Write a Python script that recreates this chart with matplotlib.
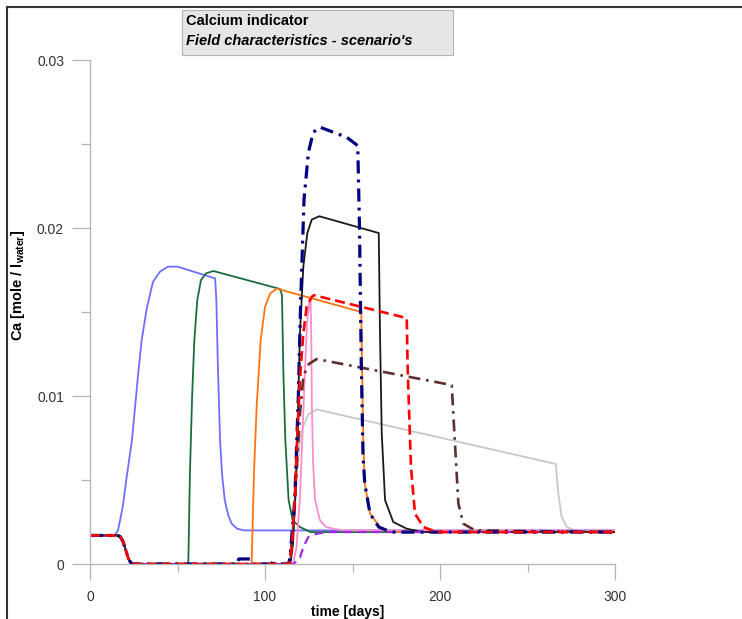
import numpy as np
import matplotlib.pyplot as plt
from matplotlib.patches import Rectangle
from matplotlib.lines import Line2D
from matplotlib.ticker import MultipleLocator

plt.rcParams['font.family'] = ['Liberation Sans', 'DejaVu Sans']
plt.rcParams['mathtext.fontset'] = 'custom'
plt.rcParams['mathtext.rm'] = 'Liberation Sans'
plt.rcParams['mathtext.bf'] = 'Liberation Sans:bold'

# common start of every scenario except the first: 0.0017 -> 0 around day 20
start_t = [0, 16, 17.5, 19, 20.5, 22, 23.5, 25]
start_v = [0.0017, 0.0017, 0.0016, 0.0013, 0.0008, 0.0003, 0.00005, 0.0]

# light blue
t_blue = [0, 14, 16, 18.7, 21, 24, 27.6, 29.5, 32.4, 36, 40, 44.6, 50, 71.5,
          72.2, 73, 74.3, 75.5, 77, 79, 81, 84, 88, 300]
v_blue = [0.0017, 0.0017, 0.0020, 0.0034, 0.0052, 0.0074, 0.0114, 0.0133, 0.0152, 0.0168, 0.0174, 0.0177, 0.0177, 0.0170,
          0.0157, 0.0121, 0.0074, 0.0053, 0.0038, 0.0029, 0.0024, 0.0021, 0.0020, 0.0020]

# green
t_green = start_t + [56, 56.2, 57.1, 58.3, 59.6, 61.3, 63.4, 66.3, 70.5, 108.6,
                     109.7, 110.5, 111.6, 113.5, 115.8, 120, 126, 300]
v_green = start_v + [0.0, 0.0002, 0.0054, 0.0098, 0.0133, 0.0157, 0.0169, 0.0173, 0.01744, 0.01637,
                     0.0160, 0.0114, 0.0074, 0.0038, 0.0026, 0.0022, 0.0019, 0.0019]

# orange
t_orange = start_t + [92.2, 92.4, 93.7, 95.2, 97.5, 100, 102.9, 106.7, 155.0,
                      155.4, 156.2, 157, 160, 165.7, 172, 300]
v_orange = start_v + [0.0, 0.0002, 0.0054, 0.0093, 0.0133, 0.0153, 0.0161, 0.01639, 0.0150,
                      0.0120, 0.0070, 0.0048, 0.0030, 0.0022, 0.0019, 0.0019]

# pink
t_pink = start_t + [116, 118, 120, 121.5, 122.8, 124, 125.3, 126, 126.4, 126.8, 127.5, 128.6,
                    131.4, 135, 139, 145, 300]
v_pink = start_v + [0.0, 0.001, 0.004, 0.008, 0.0114, 0.0143, 0.0156, 0.0157, 0.0140, 0.0094, 0.0060, 0.0038,
                    0.0026, 0.0022, 0.0021, 0.0020, 0.0020]

# light grey
t_grey = start_t + [113, 114.5, 116, 117.1, 118.3, 120, 121.9, 124.7, 129.5, 266.3,
                    266.9, 267.6, 269.5, 272.4, 280, 300]
v_grey = start_v + [0.0, 0.0005, 0.0018, 0.0034, 0.0054, 0.0074, 0.0082, 0.0089, 0.0092, 0.00595,
                    0.0050, 0.0042, 0.0028, 0.0022, 0.0019, 0.0019]

# black
t_black = start_t + [114.5, 116, 117.3, 118.5, 120, 121.9, 124.2, 126.7, 131, 165,
                     165.7, 166.7, 168.6, 173.3, 181, 190, 300]
v_black = start_v + [0.0, 0.0012, 0.0040, 0.0078, 0.0138, 0.0177, 0.0197, 0.0205, 0.0207, 0.0197,
                     0.0138, 0.0078, 0.0038, 0.0025, 0.0021, 0.0019, 0.0019]

# purple dashed
t_purple = start_t + [116.5, 118, 120, 121.9, 124.7, 129.5, 135, 300]
v_purple = start_v + [0.0, 0.0002, 0.0004, 0.0010, 0.0016, 0.0018, 0.0019, 0.0019]

# brown dash-dot
t_brown = start_t + [114, 116, 118, 120, 122, 125, 129.5, 206.7,
                     208, 210.5, 213.3, 220, 300]
v_brown = start_v + [0.0, 0.0020, 0.0055, 0.0090, 0.0112, 0.0119, 0.0122, 0.01065,
                     0.0082, 0.0036, 0.0024, 0.0020, 0.0019]

# navy dash-dot
t_navy = start_t + [84, 85, 92, 93, 104, 104.6, 105.2, 113.5, 114.3, 117, 119, 120.4, 122.3, 124.8, 127.6,
                    131.4, 146.7, 153, 154, 155, 156, 157, 160, 165, 172, 300]
v_navy = start_v + [0.0, 0.0003, 0.0003, 0.0, 0.0, 0.0003, 0.0, 0.0, 0.0004, 0.0038, 0.0098, 0.0157, 0.0217, 0.0245, 0.0257,
                    0.0260, 0.0254, 0.0249, 0.0200, 0.0120, 0.0065, 0.0048, 0.0030, 0.0022, 0.0019, 0.0019]

# red dashed
t_red = start_t + [114, 115.5, 117, 118.5, 120.4, 121.9, 123.8, 126.7, 128, 181,
                   181.5, 183.4, 185.7, 190.5, 198, 300]
v_red = start_v + [0.0, 0.0012, 0.0038, 0.0078, 0.0117, 0.0137, 0.0153, 0.0159, 0.0160, 0.01464,
                   0.0117, 0.0058, 0.0030, 0.0022, 0.0019, 0.0019]

fig = plt.figure(figsize=(7.42, 6.19), dpi=100)
ax = fig.add_axes([90/742, 55/619, 525/742, 504/619])

ax.plot(t_grey, v_grey, color='#c8c8c8', lw=1.3)
ax.plot(t_blue, v_blue, color='#6f6fff', lw=1.3)
ax.plot(t_green, v_green, color='#1b6e3c', lw=1.3)
ax.plot(t_orange, v_orange, color='#ff7410', lw=1.3)
ax.plot(t_pink, v_pink, color='#ff8ccc', lw=1.3)
ax.plot(t_black, v_black, color='#1a1a1a', lw=1.3)
ax.plot(t_purple, v_purple, color='#9a2be0', lw=1.6, dashes=(4, 2.5))
ax.plot(t_brown, v_brown, color='#5e2f2f', lw=1.9, dashes=(4.5, 2.2, 1, 2.2))
ax.plot(t_navy, v_navy, color='#000080', lw=2.3, dashes=(4.1, 1.9, 0.9, 1.9))
ax.plot(t_red, v_red, color='#ff0000', lw=1.9, dashes=(3.8, 1.9))

ax.set_xlim(0, 300)
ax.set_ylim(0, 0.03)
ax.xaxis.set_minor_locator(MultipleLocator(50))
ax.yaxis.set_minor_locator(MultipleLocator(0.005))
ax.set_xticks([0, 100, 200, 300])
ax.set_yticks([0, 0.01, 0.02, 0.03])
ax.set_xticklabels(['0', '100', '200', '300'])
ax.set_yticklabels(['0', '0.01', '0.02', '0.03'])

for s in ['top', 'right']:
    ax.spines[s].set_visible(False)
for s in ['left', 'bottom']:
    ax.spines[s].set_color('#b4b4b4')
    ax.spines[s].set_linewidth(0.9)
ax.tick_params(which='major', direction='out', color='#b4b4b4', width=0.9, labelsize=10,
               labelcolor='#333333')
ax.tick_params(axis='x', which='major', length=11.5, pad=7)
ax.tick_params(axis='x', which='minor', length=5.8, direction='out', color='#b4b4b4', width=0.9)
ax.tick_params(axis='y', which='major', length=12.7, pad=6)
ax.tick_params(axis='y', which='minor', length=6.3, direction='out', color='#b4b4b4', width=0.9)

fig.text(348/742, 1 - 612/619, 'time [days]', ha='center', va='center',
         fontsize=10, fontweight='bold')
fig.text(18/742, 1 - 285/619, r'Ca [mole / l$_{\mathregular{water}}$]', ha='center', va='center',
         rotation=90, fontsize=10.5, fontweight='bold')

# title box
fig.patches.append(Rectangle((182/742, 1 - 55/619), 271/742, 45/619, transform=fig.transFigure,
                             facecolor='#e6e6e6', edgecolor='#b4b4b4', lw=0.8))
fig.text(186/742, 1 - 21/619, 'Calcium indicator', ha='left', va='center',
         fontsize=10.5, fontweight='bold')
fig.text(186/742, 1 - 41/619, "Field characteristics - scenario's", ha='left', va='center',
         fontsize=10.5, fontweight='bold', style='italic')

# outer frame (top and left edges)
fig.lines.append(Line2D([7/742, 1], [1 - 7/619, 1 - 7/619], transform=fig.transFigure,
                        color='#333333', lw=1.5))
fig.lines.append(Line2D([7/742, 7/742], [0, 1 - 7/619], transform=fig.transFigure,
                        color='#333333', lw=1.5))

fig.savefig('out.png', dpi=100)
